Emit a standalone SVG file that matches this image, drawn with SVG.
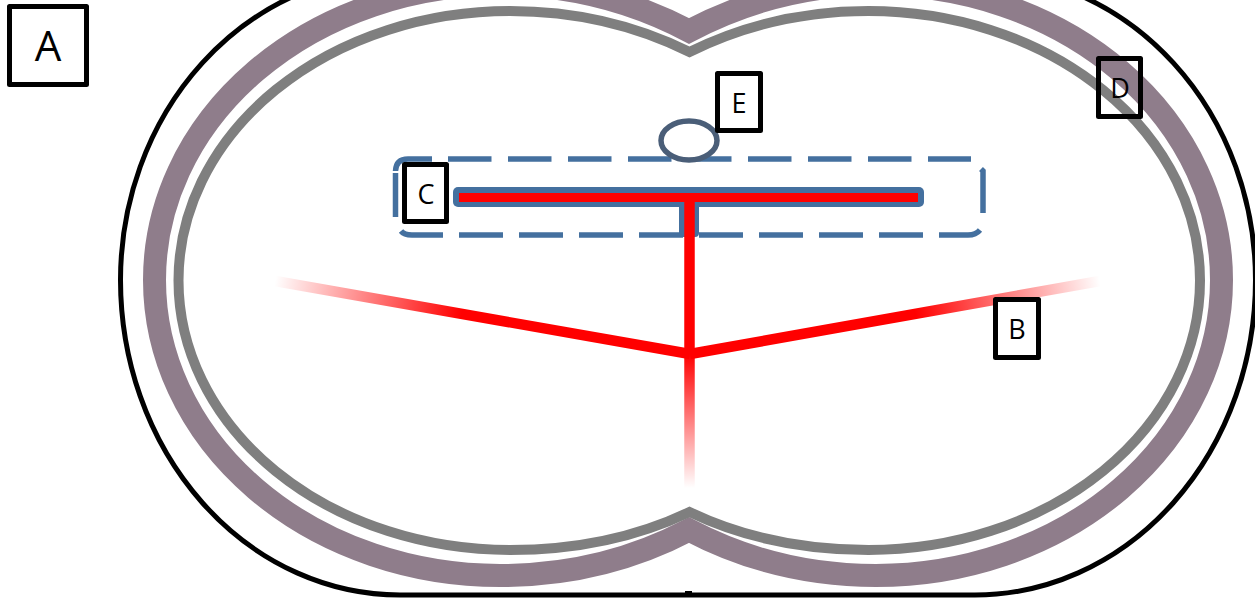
<svg xmlns="http://www.w3.org/2000/svg" width="1255" height="599" viewBox="0 0 1255 599">
<style>
.lab{fill:#fff;stroke:#000;stroke-width:5;stroke-linejoin:round}
.t{font-family:"Open Sans","Liberation Sans",sans-serif;font-size:27px;fill:#000;text-anchor:middle}
.red{stroke-width:10.500;fill:none}
</style>
<defs>
<linearGradient id="gl" gradientUnits="userSpaceOnUse" x1="275" y1="281" x2="690" y2="354"><stop offset="0" stop-color="#f00" stop-opacity="0"/><stop offset=".45" stop-color="#f00"/></linearGradient>
<linearGradient id="gr" gradientUnits="userSpaceOnUse" x1="1100" y1="281" x2="690" y2="354"><stop offset="0" stop-color="#f00" stop-opacity="0"/><stop offset=".45" stop-color="#f00"/></linearGradient>
<linearGradient id="gd" gradientUnits="userSpaceOnUse" x1="690" y1="488" x2="690" y2="354"><stop offset="0" stop-color="#f00" stop-opacity="0"/><stop offset="1" stop-color="#f00"/></linearGradient>
</defs>
<rect width="1255" height="599" fill="#fff"/>
<g id="outer"><path d="M120.500 280A279.500 315 0 0 0 400 595H975A280.500 315 0 0 0 1255.500 280A280.500 307 0 0 0 975 -27H400A279.500 307 0 0 0 120.500 280Z" fill="none" stroke="#000" stroke-width="5"/><rect x="685" y="591" width="7" height="3" fill="#000"/></g>
<g id="wall-purple"><path d="M689 31C632 1 570 -15.500 500 -15.500A345.500 295.500 0 0 0 154.500 280A345.500 295.500 0 0 0 500 575.500C570 575.500 632 560 689 530C746 560 806 575.500 876 575.500A345.500 295.500 0 0 0 1221.500 280A345.500 295.500 0 0 0 876 -15.500C806 -15.500 746 1 689 31Z" fill="none" stroke="#8f7d8b" stroke-width="23"/></g>
<g id="wall-gray"><path d="M689.500 52C635 25 575 11 510 11A331.500 269.500 0 0 0 178.500 280.500A331.500 269.500 0 0 0 510 550C575 550 635 538 689.500 512C744 538 803.500 550 868.500 550A331.500 269.500 0 0 0 1200 280.500A331.500 269.500 0 0 0 868.500 11C803.500 11 744 25 689.500 52Z" fill="none" stroke="#7f7f7f" stroke-width="10"/></g>
<g id="dashed-box"><path d="M448 159H971" fill="none" stroke="#44709f" stroke-width="5.500" stroke-dasharray="43.500 16.500"/><path d="M459 235H923" fill="none" stroke="#44709f" stroke-width="5.500" stroke-dasharray="44 16"/><path d="M432 159H408Q396 159 395.500 171M395.500 173V217M401 231Q404 235 412 235H443M983 213V171L981 169M939 235H968Q976 235 980 230" fill="none" stroke="#44709f" stroke-width="5.500"/></g>
<g id="bar"><rect x="453" y="187" width="471" height="20" rx="5" fill="#44709f"/><rect x="679" y="200" width="20" height="37" rx="4" fill="#44709f"/></g>
<g id="oval"><ellipse cx="689" cy="140.500" rx="28" ry="19.500" fill="#fff" stroke="#4a5e78" stroke-width="5.500"/></g>
<g id="connectors">
<path d="M459 197.500H918" stroke="#f00" stroke-width="9" fill="none"/>
<path d="M689.500 197V354" stroke="#f00" stroke-width="10.500" fill="none"/>
<path d="M275 281L690 354" class="red" stroke="url(#gl)"/>
<path d="M1100 281L690 354" class="red" stroke="url(#gr)"/>
<path d="M689.500 354V488" stroke="url(#gd)" stroke-width="10.500" fill="none"/>
</g>
<g id="A"><rect class="lab" x="9.500" y="6.500" width="77" height="78"/><text class="t" x="48" y="61" style="font-size:42px">A</text></g>
<g id="B"><rect class="lab" x="995.500" y="299.500" width="43" height="58"/><text class="t" x="1017" y="339">B</text></g>
<g id="C"><rect class="lab" x="404.500" y="164.500" width="42" height="57"/><text class="t" x="426" y="204">C</text></g>
<g id="D"><rect class="lab" style="fill:none" x="1098.500" y="58.500" width="42" height="58"/><text class="t" x="1120" y="98">D</text></g>
<g id="E"><rect class="lab" x="717.500" y="73.500" width="43" height="57"/><text class="t" x="739" y="113">E</text></g>
</svg>
